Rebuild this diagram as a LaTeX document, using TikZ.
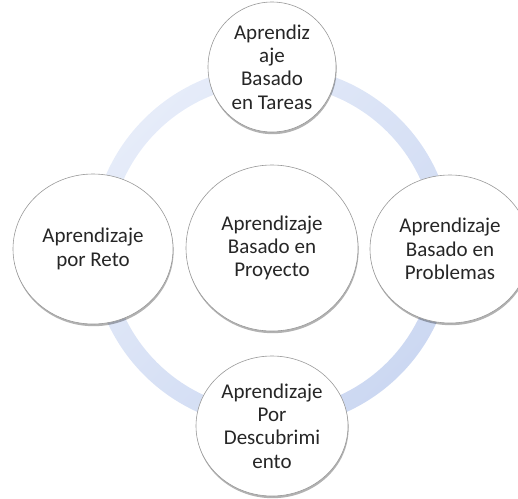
\documentclass[tikz,border=0pt]{standalone}
\usepackage{fontspec}
\setmainfont{Carlito}
\usetikzlibrary{shapes.geometric,shadows}

\definecolor{ringlight}{RGB}{230,236,249}
\definecolor{ringdark}{RGB}{204,216,242}

\begin{document}
\begin{tikzpicture}[x=1pt, y=-1pt,
    bubble/.style={ellipse, draw=black!40, line width=0.6pt, fill=white, inner sep=0pt, align=center,
        font=\fontsize{21}{23.3}\selectfont, text=black!85,
        drop shadow={shadow xshift=0.6pt, shadow yshift=-2.2pt, opacity=0.3, fill=black}}
]
\useasboundingbox (0,0) rectangle (518,498);
\coordinate (hub) at (272,247);
\shade[even odd rule, top color=ringlight, bottom color=ringdark, shading angle=45] (hub) circle (181pt) circle (163pt);

\node[bubble, minimum width=128pt, minimum height=130pt] (tareas) at (272,67) {Aprendiz\\aje\\Basado\\en Tareas};
\node[bubble, minimum width=160pt, minimum height=150pt] (reto) at (93,249) {Aprendizaje\\por Reto};
\node[bubble, minimum width=172pt, minimum height=166pt] (proyecto) at (272,248) {Aprendizaje\\Basado en\\Proyecto};
\node[bubble, minimum width=160pt, minimum height=148pt] (problemas) at (450,249) {Aprendizaje\\Basado en\\Problemas};
\node[bubble, minimum width=152pt, minimum height=140pt] (descubrimiento) at (272,426) {Aprendizaje\\Por\\Descubrimi\\ento};
\end{tikzpicture}
\end{document}
